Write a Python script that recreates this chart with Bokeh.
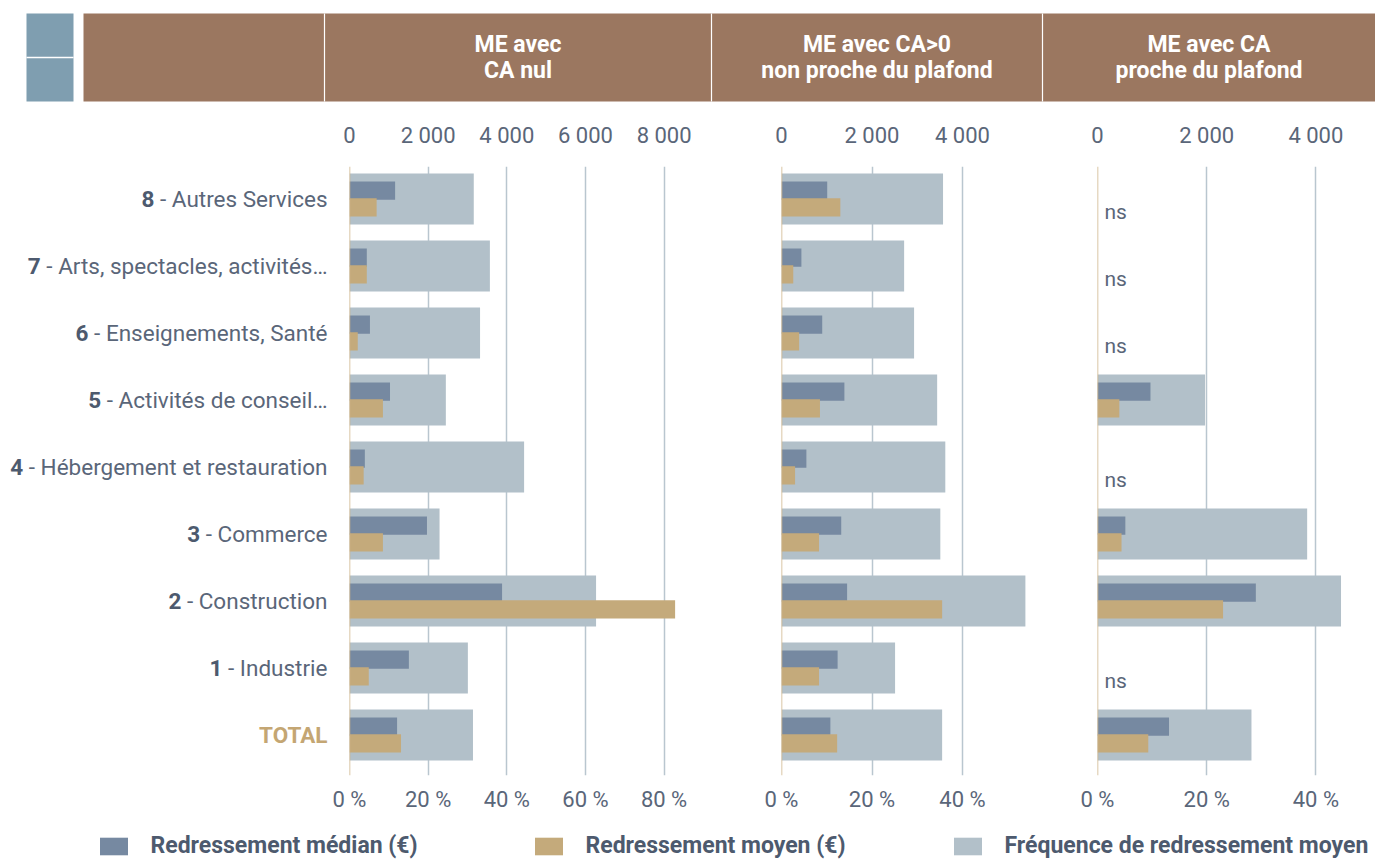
import subprocess
from bokeh.plotting import figure
from bokeh.models import (Range1d, LinearAxis, FixedTicker, Span, ColumnDataSource,
                          Legend, LegendItem)
from bokeh.layouts import column, row
from bokeh.core.properties import value
from bokeh.embed import file_html
from bokeh.resources import INLINE

# ---------------- data (rows listed top to bottom) ----------------
sector_codes = ["8", "7", "6", "5", "4", "3", "2", "1", ""]
sector_names = ["Autres Services", "Arts, spectacles, activités…", "Enseignements, Santé",
                "Activités de conseil…", "Hébergement et restauration", "Commerce",
                "Construction", "Industrie", "TOTAL"]

panel_titles = [["ME avec", "CA nul"],
                ["ME avec CA>0", "non proche du plafond"],
                ["ME avec CA", "proche du plafond"]]

# Fréquence de redressement (%), redressement médian (€), redressement moyen (€)
freq_nul = [31.6, 35.7, 33.2, 24.5, 44.4, 22.9, 62.7, 30.1, 31.4]
median_nul = [1160, 440, 520, 1030, 390, 1970, 3880, 1510, 1210]
mean_nul = [690, 440, 210, 850, 360, 850, 8280, 490, 1310]

freq_pos = [35.7, 27.1, 29.3, 34.4, 36.2, 35.1, 53.9, 25.1, 35.5]
median_pos = [1010, 440, 900, 1390, 550, 1320, 1450, 1240, 1080]
mean_pos = [1300, 260, 390, 850, 300, 830, 3550, 830, 1230]

freq_plaf = [None, None, None, 19.7, None, 38.4, 44.6, None, 28.2]
median_plaf = [None, None, None, 970, None, 510, 2900, None, 1310]
mean_plaf = [None, None, None, 400, None, 440, 2300, None, 930]

pct_ticks_1 = [0, 20, 40, 60, 80]
eur_ticks_1 = [0, 2000, 4000, 6000, 8000]
pct_ticks_2 = [0, 20, 40]
eur_ticks_2 = [0, 2000, 4000]

legend_labels = ["Redressement médian (€)", "Redressement moyen (€)",
                 "Fréquence de redressement moyen"]

# ---------------- styles ----------------
FONT = "Roboto"
TEXT_C = "#5A6679"
NUM_C = "#4D5A6E"
TOTAL_C = "#C4A673"
FREQ_C = "#B2C0C9"
MED_C = "#7689A1"
MEAN_C = "#C4AA7B"
GRID_C = "#B9C6CF"
ZERO_C = "#CDB487"
BROWN = "#9B7760"
SLATE = "#7F9EB0"

TOTAL_W = 1375
HEADER_H = 108
PANEL_H = 708
LEGEND_H = 43
MB_TOP = 58
MB_BOTTOM = 41
LABEL_W = 328
LABEL_SIZE = 22.5

n = len(sector_names)
rows_y = [n - 1 - i for i in range(n)]
y_range = Range1d(-0.604, n - 1 + 0.485)


# ---------------- text measuring (for mixed bold / regular labels) ----------------
_font_cache = {}


def text_width(s, size):
    try:
        from PIL import ImageFont
        if size not in _font_cache:
            path = subprocess.run(["fc-match", "-f", "%{file}", "Roboto:regular"],
                                  capture_output=True, text=True, timeout=5).stdout.strip()
            if "roboto" not in path.lower():
                raise RuntimeError("no roboto")
            _font_cache[size] = ImageFont.truetype(path, size)
        return _font_cache[size].getlength(s)
    except Exception:
        return len(s) * size * 0.5


def base_fig(width, height, x_range, y_rng, **kw):
    p = figure(width=width, height=height, x_range=x_range, y_range=y_rng,
               output_backend="svg", toolbar_location=None,
               outline_line_color=None, background_fill_color="white",
               border_fill_color="white", **kw)
    return p


# ---------------- header ----------------
hdr = base_fig(TOTAL_W, HEADER_H, Range1d(0, TOTAL_W), Range1d(HEADER_H, 0),
               x_axis_location=None, y_axis_location=None,
               min_border_left=0, min_border_right=0, min_border_top=0, min_border_bottom=0)
hdr.grid.visible = False
box_top, box_bottom = 13, 101
hdr.quad(left=[26], right=[73], top=[box_top], bottom=[box_bottom], fill_color=SLATE, line_color=None)
hdr.quad(left=[83], right=[TOTAL_W], top=[box_top], bottom=[box_bottom], fill_color=BROWN, line_color=None)
hdr.segment(x0=[26], x1=[73], y0=[57], y1=[57], line_color="white", line_width=1.5)
col_edges = [324, 711, 1042, TOTAL_W]
hdr.segment(x0=col_edges[:3], x1=col_edges[:3], y0=[box_top] * 3, y1=[box_bottom] * 3,
            line_color="white", line_width=1.2)
centers = [(col_edges[i] + col_edges[i + 1]) / 2 for i in range(3)]
for line_idx, ly in enumerate([44, 70]):
    hdr.text(x=centers, y=[ly] * 3, text=[t[line_idx] for t in panel_titles],
             text_align="center", text_baseline="middle", text_font=value(FONT),
             text_font_size="23px", text_font_style="bold", text_color="white")

# ---------------- category labels ----------------
lab = base_fig(LABEL_W, PANEL_H, Range1d(0, LABEL_W), y_range,
               x_axis_location=None, y_axis_location=None,
               min_border_left=0, min_border_right=0,
               min_border_top=MB_TOP, min_border_bottom=MB_BOTTOM)
lab.grid.visible = False
x_right = LABEL_W - 1
names_src = dict(y=[], name=[], code=[], xnum=[])
total_src = dict(y=[], name=[])
for code, name, yy in zip(sector_codes, sector_names, rows_y):
    if code:
        rest = "- " + name
        names_src["y"].append(yy)
        names_src["name"].append(rest)
        names_src["code"].append(code)
        names_src["xnum"].append(x_right - text_width(" " + rest, LABEL_SIZE))
    else:
        total_src["y"].append(yy)
        total_src["name"].append(name)
ns_src = ColumnDataSource(names_src)
lab.text(x=x_right, y="y", text="name", source=ns_src, text_align="right",
         text_baseline="middle", text_font=value(FONT), text_font_size=f"{LABEL_SIZE}px",
         text_color=TEXT_C)
lab.text(x="xnum", y="y", text="code", source=ns_src, text_align="right",
         text_baseline="middle", text_font=value(FONT), text_font_size=f"{LABEL_SIZE}px",
         text_font_style="bold", text_color=NUM_C)
lab.text(x=x_right, y="y", text="name", source=ColumnDataSource(total_src), text_align="right",
         text_baseline="middle", text_font=value(FONT), text_font_size=f"{LABEL_SIZE}px",
         text_font_style="bold", text_color=TOTAL_C)


# ---------------- panels ----------------
def style_axis(ax):
    ax.axis_line_color = None
    ax.major_tick_line_color = None
    ax.minor_tick_line_color = None
    ax.major_tick_out = 0
    ax.major_tick_in = 0
    ax.major_label_text_font = FONT
    ax.major_label_text_font_size = "22px"
    ax.major_label_text_color = TEXT_C


sources = []


def make_panel(freq, med, mean, pct_ticks, eur_ticks, width, mbl, mbr, pct_max):
    p = base_fig(width, PANEL_H, Range1d(0, pct_max), y_range,
                 x_axis_location="below", y_axis_location=None,
                 min_border_left=mbl, min_border_right=mbr,
                 min_border_top=MB_TOP, min_border_bottom=MB_BOTTOM)
    p.extra_x_ranges = {"eur": Range1d(0, pct_max * 100)}
    p.ygrid.visible = False
    p.xgrid.ticker = FixedTicker(ticks=pct_ticks[1:])
    p.xgrid.grid_line_color = GRID_C
    p.xgrid.grid_line_width = 1.5

    d = dict(y=[], freq=[], med=[], mean=[])
    ns = dict(y=[], t=[])
    for yy, f, m, a in zip(rows_y, freq, med, mean):
        if f is None:
            ns["y"].append(yy - 0.2)
            ns["t"].append("ns")
            continue
        d["y"].append(yy)
        d["freq"].append(f)
        d["med"].append(m)
        d["mean"].append(a)
    d["y_med"] = [yy + 0.125 for yy in d["y"]]
    d["y_mean"] = [yy - 0.125 for yy in d["y"]]
    src = ColumnDataSource(d)
    sources.append(src)
    p.hbar(y="y", left=0, right="freq", height=0.76, source=src,
           fill_color=FREQ_C, line_color=None)
    p.hbar(y="y_med", left=0, right="med", height=0.27, source=src,
           fill_color=MED_C, line_color=None, x_range_name="eur")
    p.hbar(y="y_mean", left=0, right="mean", height=0.27, source=src,
           fill_color=MEAN_C, line_color=None, x_range_name="eur")
    if ns["y"]:
        p.text(x=0, y="y", text="t", source=ColumnDataSource(ns), x_offset=7,
               text_align="left", text_baseline="middle", text_font=value(FONT),
               text_font_size="21px", text_color=TEXT_C)
    p.add_layout(Span(location=0, dimension="height", line_color=ZERO_C, line_width=1.5))

    bx = p.xaxis[0]
    bx.ticker = FixedTicker(ticks=pct_ticks)
    bx.major_label_overrides = {t: f"{t} %" for t in pct_ticks}
    style_axis(bx)
    bx.major_label_standoff = 11

    top = LinearAxis(x_range_name="eur", ticker=FixedTicker(ticks=eur_ticks),
                     major_label_overrides={t: f"{t:,}".replace(",", " ") for t in eur_ticks})
    style_axis(top)
    top.major_label_standoff = 19
    p.add_layout(top, "above")
    return p


p1 = make_panel(freq_nul, median_nul, mean_nul, pct_ticks_1, eur_ticks_1,
                383, 21, 11, 351 / 3.9325)
p2 = make_panel(freq_pos, median_pos, mean_pos, pct_ticks_2, eur_ticks_2,
                331, 70, 7, 254 / 4.525)
p3 = make_panel(freq_plaf, median_plaf, mean_plaf, pct_ticks_2, eur_ticks_2,
                333, 55, 8, 270 / 5.46)

# ---------------- legend ----------------
leg = base_fig(TOTAL_W, LEGEND_H, Range1d(0, TOTAL_W), Range1d(0, LEGEND_H),
               x_axis_location=None, y_axis_location=None,
               min_border_left=0, min_border_right=0, min_border_top=0, min_border_bottom=0)
leg.grid.visible = False
legend_colors = [MED_C, MEAN_C, FREQ_C]
legend_fields = ["med", "mean", "freq"]
legend_x = [95.5, 530.5, 949.5]
for lbl, colr, fld, lx in zip(legend_labels, legend_colors, legend_fields, legend_x):
    # hidden renderer on the real data, used only to supply the legend swatch
    r = leg.hbar(y="y", right=fld, left=0, height=0.27, source=sources[0],
                 fill_color=colr, line_color=None, visible=False)
    lg = Legend(items=[LegendItem(label=lbl, renderers=[r], index=0)], location=(lx, 0),
                orientation="horizontal", padding=0, margin=0,
                border_line_color=None, background_fill_alpha=0,
                glyph_width=35, glyph_height=22, label_height=22, label_standoff=20,
                label_text_font=FONT, label_text_font_size="23px",
                label_text_font_style="bold", label_text_color=NUM_C)
    leg.add_layout(lg)

layout = column(hdr, row(lab, p1, p2, p3), leg)
open("out.html", "w").write(file_html(layout, INLINE))
